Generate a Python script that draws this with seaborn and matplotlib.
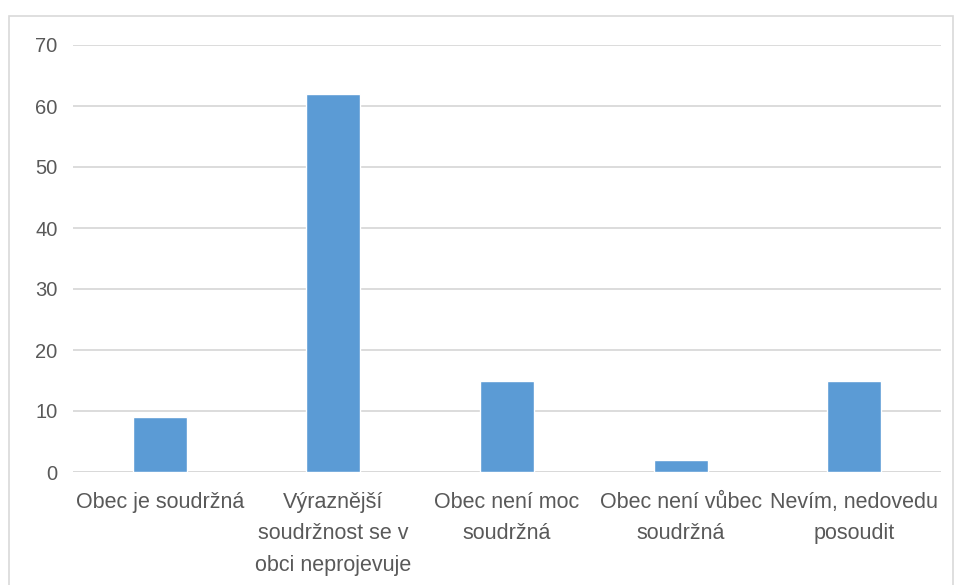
import matplotlib
matplotlib.use("Agg")
import matplotlib.pyplot as plt
import seaborn as sns
from matplotlib.patches import Rectangle

# data
kategorie = [
    "Obec je soudržná",
    "Výraznější\nsoudržnost se v\nobci neprojevuje",
    "Obec není moc\nsoudržná",
    "Obec není vůbec\nsoudržná",
    "Nevím, nedovedu\nposoudit",
]
hodnoty = [9, 62, 15, 2, 15]
y_ticks = [0, 10, 20, 30, 40, 50, 60, 70]

sns.set_theme(style="white")
plt.rcParams['font.family'] = ['Liberation Sans', 'DejaVu Sans']

W, H = 956, 585
fig = plt.figure(figsize=(W / 100, H / 100), dpi=100)
ax = fig.add_axes([73 / W, 1 - 472 / H, (941 - 73) / W, (472 - 45) / H])

# ramecek grafu
fig.patches.append(Rectangle((9 / W, -0.1), (953 - 9) / W, 1 - 16 / H + 0.1,
                             transform=fig.transFigure, fill=False,
                             edgecolor='#d9d9d9', linewidth=1.2))

sns.barplot(x=kategorie, y=hodnoty, color='#5b9bd5', saturation=1,
            width=0.31, ax=ax, zorder=3)

ax.set_ylim(0, 70)
ax.set_xlim(-0.5, 4.5)
ax.set_yticks(y_ticks)
ax.yaxis.grid(True, color='#d9d9d9', linewidth=1.3, zorder=0)
ax.set_axisbelow(True)
for s in ax.spines.values():
    s.set_visible(False)
ax.axhline(0, color='#d9d9d9', linewidth=1.3, zorder=1)

ax.tick_params(axis='y', length=0, pad=11, labelsize=14.5, labelcolor='#595959')
ax.tick_params(axis='x', length=0, pad=14.5, labelsize=15.5, labelcolor='#595959')
for t in ax.get_xticklabels():
    t.set_linespacing(1.64)
    t.set_verticalalignment('top')
ax.set_xlabel('')
ax.set_ylabel('')

fig.savefig('out.png', dpi=100)
